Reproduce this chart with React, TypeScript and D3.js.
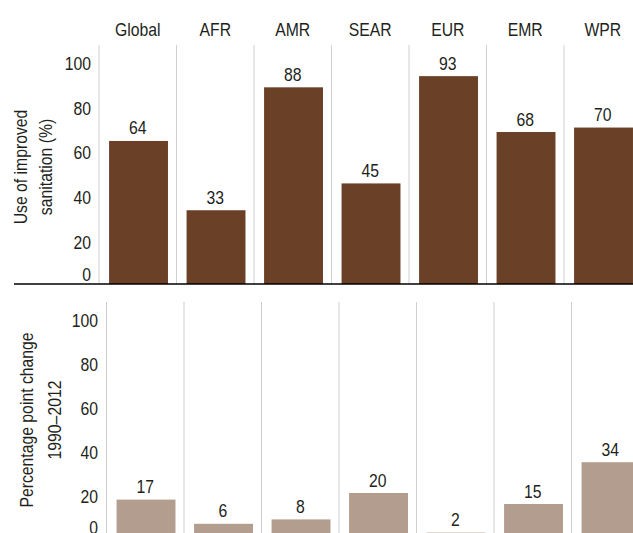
import React, { useEffect, useRef } from 'react';
import * as d3 from 'd3';

const regions = ['Global', 'AFR', 'AMR', 'SEAR', 'EUR', 'EMR', 'WPR'];
const sanitationUse = [64, 33, 88, 45, 93, 68, 70];
const pointChange = [17, 6, 8, 20, 2, 15, 34];
const yTicks = [0, 20, 40, 60, 80, 100];
const topTitle = ['Use of improved', 'sanitation (%)'];
const bottomTitle = ['Percentage point change', '1990–2012'];

const FONT = '"Liberation Sans", Arial, sans-serif';
const TEXT = '#231f20';
// no narrow face installed, so squeeze a regular one
const SQUEEZE = 0.83;

const App: React.FC = () => {
  const ref = useRef<SVGSVGElement>(null);

  useEffect(() => {
    if (!ref.current) return;
    const svg = d3.select(ref.current);
    svg.selectAll('*').remove();

    const colW = 77.5;

    const drawPanel = (
      values: number[],
      o: {
        left: number; baseline: number; top: number; gridTop: number; color: string;
        tickRight: number; title: string[]; titleX: number; titleY: number;
        titleGap: number; showCats: boolean; axisLine: boolean;
      }
    ) => {
      const g = svg.append('g');
      const x = d3.scaleBand<string>()
        .domain(regions)
        .range([o.left, o.left + colW * regions.length])
        .padding(0);
      const y = d3.scaleLinear().domain([0, 100]).range([o.baseline, o.top]);
      const bw = x.bandwidth();
      const at = (px: number, py: number) => `translate(${px},${py}) scale(${SQUEEZE},1)`;

      // column separators
      g.selectAll('.sep')
        .data(regions)
        .enter().append('line')
        .attr('x1', d => x(d)!).attr('x2', d => x(d)!)
        .attr('y1', o.gridTop).attr('y2', o.baseline)
        .attr('stroke', '#cfcfcf').attr('stroke-width', 1);

      // bars
      g.selectAll('.bar')
        .data(values)
        .enter().append('rect')
        .attr('x', (_, i) => x(regions[i])! + bw * 0.13)
        .attr('width', bw * 0.76)
        .attr('y', d => y(d))
        .attr('height', d => o.baseline - y(d))
        .attr('fill', o.color);

      // value labels
      g.selectAll('.val')
        .data(values)
        .enter().append('text')
        .attr('transform', (d, i) => at(x(regions[i])! + bw * 0.5, y(d) - 6.5))
        .attr('text-anchor', 'middle')
        .text(d => d);

      // tick labels
      g.selectAll('.tick')
        .data(yTicks)
        .enter().append('text')
        .attr('transform', d => at(o.tickRight, Math.min(y(d) + 9.5, o.baseline - 3)))
        .attr('text-anchor', 'end')
        .text(d => d);

      if (o.showCats) {
        g.selectAll('.cat')
          .data(regions)
          .enter().append('text')
          .attr('transform', d => at(x(d)! + bw / 2, 36))
          .attr('text-anchor', 'middle')
          .text(d => d);
      }

      if (o.axisLine) {
        g.append('line')
          .attr('x1', 14).attr('x2', 640)
          .attr('y1', o.baseline).attr('y2', o.baseline)
          .attr('stroke', '#000').attr('stroke-width', 1.3);
      }

      const t = g.append('text')
        .attr('transform', `translate(${o.titleX},${o.titleY}) rotate(-90) scale(${SQUEEZE},1)`)
        .attr('text-anchor', 'middle');
      o.title.forEach((line, i) => {
        t.append('tspan').attr('x', 0).attr('y', i * o.titleGap).text(line);
      });
    };

    drawPanel(sanitationUse, {
      left: 99, baseline: 284, top: 60.5, gridTop: 45, color: '#6a4027', tickRight: 91,
      title: topTitle, titleX: 26.5, titleY: 167, titleGap: 26, showCats: true, axisLine: true,
    });
    drawPanel(pointChange, {
      left: 106.5, baseline: 537, top: 317, gridTop: 302, color: '#b39d8e', tickRight: 98,
      title: bottomTitle, titleX: 33.3, titleY: 420, titleGap: 28, showCats: false, axisLine: false,
    });
  }, []);

  return (
    <svg
      ref={ref}
      width={633}
      height={533}
      style={{ position: 'absolute', left: 0, top: 0, background: '#fff', fontFamily: FONT, fontSize: 19, fill: TEXT }}
    />
  );
};

export default App;
